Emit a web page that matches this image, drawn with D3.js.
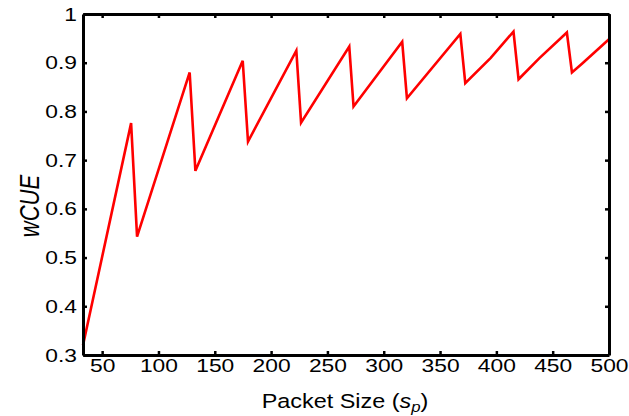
<!DOCTYPE html>
<html>
<head>
<meta charset="utf-8">
<script src="https://cdn.jsdelivr.net/npm/d3@7"></script>
<style>
    body { margin: 0; background: #fff; }
    text { font-family: "Liberation Sans", Arial, sans-serif; fill: #000; }
</style>
</head>
<body>
<div class="chart"></div>
<script>
    // packet size (x) and wCUE (y)
    var packetSize = [33, 75.7, 81, 127.7, 132.8, 174.8, 179.5, 222.4, 226.6, 269.4, 273.2,
                      316.4, 320.6, 368, 372.4, 395, 415.2, 419.7, 438, 462.6,
                      467.1, 476, 500];
    var wcue = [0.32, 0.776, 0.543, 0.880, 0.678, 0.904, 0.738, 0.925, 0.777, 0.933, 0.810,
                0.943, 0.827, 0.959, 0.858, 0.910, 0.964, 0.866, 0.909, 0.962,
                0.880, 0.898, 0.948];
    var xTicks = [50, 100, 150, 200, 250, 300, 350, 400, 450, 500];
    var yTicks = [0.3, 0.4, 0.5, 0.6, 0.7, 0.8, 0.9, 1];

    var width = 629, height = 416;
    var margin = {top: 14, right: 20, bottom: 61, left: 83};
    var stretch = "scale(1.2,1)";

    var svg = d3.select(".chart").append("svg")
        .attr("width", width)
        .attr("height", height);

    var x = d3.scaleLinear().domain([33, 500]).range([margin.left, width - margin.right]);
    var y = d3.scaleLinear().domain([0.3, 1]).range([height - margin.bottom, margin.top]);

    // data line
    var line = d3.line()
        .x(function(d) { return x(d[0]); })
        .y(function(d) { return y(d[1]); });

    svg.append("path")
        .datum(d3.zip(packetSize, wcue))
        .attr("fill", "none")
        .attr("stroke", "#ff0000")
        .attr("stroke-width", 2.6)
        .attr("stroke-linejoin", "miter")
        .attr("d", line);

    // axes, ticks pointing inward on all four sides
    function styleAxis(g) {
        g.select(".domain").attr("stroke", "#000").attr("stroke-width", 3);
        g.selectAll(".tick line").attr("stroke", "#000").attr("stroke-width", 2.5);
        g.selectAll(".tick text")
            .attr("fill", "#000")
            .style("font-size", "19px")
            .style("font-family", "'Liberation Sans', Arial, sans-serif");
    }

    var gx = svg.append("g")
        .attr("transform", "translate(0," + (height - margin.bottom) + ")")
        .call(d3.axisBottom(x).tickValues(xTicks).tickSize(-4).tickSizeOuter(0).tickPadding(4)
              .tickFormat(d3.format("d")))
        .call(styleAxis);
    gx.selectAll(".tick text").attr("transform", stretch);

    var gy = svg.append("g")
        .attr("transform", "translate(" + margin.left + ",0)")
        .call(d3.axisLeft(y).tickValues(yTicks).tickSize(-4).tickSizeOuter(0).tickPadding(5)
              .tickFormat(function(d) { return d === 1 ? "1" : d3.format(".1f")(d); }))
        .call(styleAxis);
    gy.selectAll(".tick text").attr("transform", stretch);

    svg.append("g")
        .attr("transform", "translate(0," + margin.top + ")")
        .call(d3.axisTop(x).tickValues(xTicks).tickSize(-4).tickSizeOuter(0).tickFormat(""))
        .call(styleAxis);

    svg.append("g")
        .attr("transform", "translate(" + (width - margin.right) + ",0)")
        .call(d3.axisRight(y).tickValues(yTicks).tickSize(-4).tickSizeOuter(0).tickFormat(""))
        .call(styleAxis);

    // axis titles
    var xLabel = svg.append("text")
        .attr("transform", "translate(345,408) " + stretch)
        .attr("text-anchor", "middle")
        .style("font-size", "19.5px");
    xLabel.append("tspan").text("Packet Size (");
    xLabel.append("tspan").style("font-style", "italic").text("s");
    xLabel.append("tspan").style("font-style", "italic").style("font-size", "14px")
        .attr("dy", 4).text("p");
    xLabel.append("tspan").attr("dy", -4).text(")");

    svg.append("text")
        .attr("transform", "translate(39,206) rotate(-90) scale(1,1.25)")
        .attr("text-anchor", "middle")
        .style("font-size", "22px")
        .style("font-style", "italic")
        .text("wCUE");
</script>
</body>
</html>
